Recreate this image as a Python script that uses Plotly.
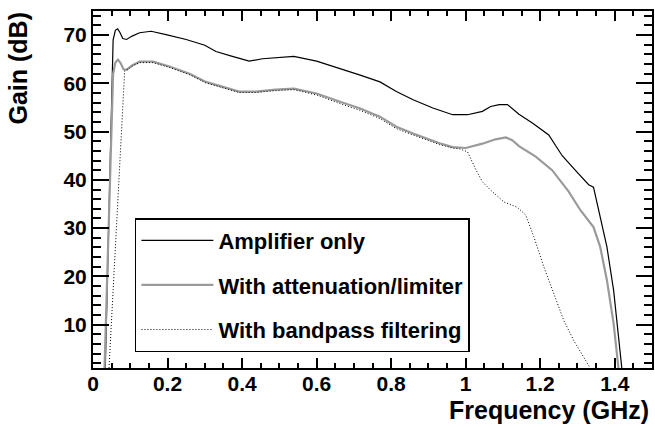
import plotly.graph_objects as go

# Amplifier only (black)
amp_f = [0.033, 0.047, 0.054, 0.060, 0.066, 0.072, 0.080, 0.090, 0.105, 0.125, 0.156, 0.196,
         0.25, 0.30, 0.33, 0.374, 0.419, 0.455, 0.50, 0.539, 0.60, 0.663, 0.717, 0.77, 0.814,
         0.859, 0.912, 0.965, 1.005, 1.045, 1.067, 1.09, 1.112, 1.143, 1.179, 1.223, 1.259,
         1.294, 1.33, 1.343, 1.361, 1.379, 1.397, 1.419]
amp_g = [1.0, 49.0, 69.0, 71.0, 71.3, 70.6, 69.3, 69.1, 69.8, 70.5, 70.8, 70.1,
         69.1, 67.9, 66.6, 65.6, 64.6, 65.1, 65.4, 65.6, 64.6, 63.1, 61.7, 60.3, 58.3,
         56.6, 54.9, 53.5, 53.5, 54.2, 55.2, 55.6, 55.6, 53.6, 51.8, 49.3, 45.0,
         42.0, 39.0, 38.5, 32.0, 26.1, 17.1, 1.0]

# With attenuation/limiter (grey)
att_f = [0.031, 0.045, 0.054, 0.060, 0.067, 0.074, 0.082, 0.090, 0.105, 0.125, 0.161, 0.205,
         0.259, 0.303, 0.347, 0.392, 0.437, 0.49, 0.539, 0.60, 0.663, 0.717, 0.77, 0.814,
         0.859, 0.894, 0.93, 0.965, 1.0, 1.045, 1.08, 1.108, 1.125, 1.143, 1.188, 1.232,
         1.263, 1.276, 1.308, 1.343, 1.361, 1.379, 1.397, 1.41]
att_g = [1.0, 40.0, 62.0, 64.3, 64.9, 64.2, 62.9, 62.8, 63.7, 64.5, 64.5, 63.5,
         62.0, 60.3, 59.3, 58.3, 58.3, 58.7, 58.9, 57.9, 56.2, 54.8, 53.1, 51.0,
         49.6, 48.6, 47.6, 46.8, 46.6, 47.5, 48.4, 48.8, 48.2, 47.0, 44.8, 42.0,
         38.8, 37.6, 33.7, 30.2, 26.1, 19.2, 10.2, 1.0]

# With bandpass filtering (dotted)
bp_f = [0.043, 0.064, 0.085, 0.095, 0.105, 0.125, 0.161, 0.205, 0.259, 0.303, 0.347, 0.392,
        0.437, 0.49, 0.539, 0.60, 0.663, 0.717, 0.77, 0.814, 0.859, 0.894, 0.93, 0.965,
        0.985, 1.005, 1.028, 1.045, 1.068, 1.103, 1.139, 1.161, 1.183, 1.21, 1.236, 1.263,
        1.29, 1.317, 1.334]
bp_g = [1.0, 32.0, 62.6, 63.0, 63.6, 64.3, 64.3, 63.3, 61.8, 60.1, 59.1, 58.1,
        58.1, 58.5, 58.7, 57.6, 55.8, 54.4, 52.7, 50.6, 49.3, 48.3, 47.3, 46.6,
        46.4, 45.8, 42.0, 39.6, 37.8, 35.4, 34.3, 32.7, 28.2, 21.9, 16.4, 10.9,
        6.7, 3.3, 1.0]

names = ["Amplifier only", "With attenuation/limiter", "With bandpass filtering"]

FONT = "Liberation Sans, Arial, Helvetica, sans-serif"

fig = go.Figure()
fig.add_trace(go.Scatter(x=amp_f, y=amp_g, mode="lines", name=names[0], legendgroup="a",
                         line=dict(color="black", width=1.2)))
fig.add_trace(go.Scatter(x=att_f, y=att_g, mode="lines", name=names[1], legendgroup="b",
                         line=dict(color="#9a9a9a", width=2.2)))
fig.add_trace(go.Scatter(x=bp_f, y=bp_g, mode="lines", name=names[2], legendgroup="c",
                         line=dict(color="black", width=1, dash="1px,2px")))

axis_common = dict(showline=True, linecolor="black", linewidth=2, mirror="allticks",
                   ticks="inside", tickcolor="black", showgrid=False, zeroline=False,
                   tickfont=dict(family=FONT, size=21, color="black", weight="bold"))

fig.update_xaxes(range=[0, 1.5], tick0=0, dtick=0.2, ticklen=10, tickwidth=1.5,
                 ticklabelstandoff=-4,
                 minor=dict(ticks="inside", dtick=0.05, ticklen=5, tickcolor="black", tickwidth=1.5),
                 **axis_common)
fig.update_yaxes(range=[1, 75], tick0=10, dtick=10, ticklen=16, tickwidth=1.5,
                 minor=dict(ticks="inside", dtick=2, tick0=0, ticklen=8, tickcolor="black", tickwidth=1.5),
                 **axis_common)

fig.update_layout(
    width=655, height=427,
    margin=dict(l=93, r=1, t=11, b=59),
    paper_bgcolor="white", plot_bgcolor="white",
    font=dict(family=FONT, size=21, color="black", weight="bold"),
    showlegend=True,
    legend=dict(x=0.075, y=0.42, xanchor="left", yanchor="top",
                bordercolor="black", borderwidth=1.5, bgcolor="white",
                itemwidth=72, tracegroupgap=13,
                font=dict(family=FONT, size=22, color="black", weight="bold")),
    annotations=[
        dict(text="Gain (dB)", textangle=-90, xref="paper", yref="paper",
             x=-0.134, y=1.003, xanchor="center", yanchor="top", showarrow=False,
             font=dict(family=FONT, size=25, color="black", weight="bold")),
        dict(text="Frequency (GHz)", xref="paper", yref="paper",
             x=0.998, y=-0.118, xanchor="right", yanchor="middle", showarrow=False,
             font=dict(family=FONT, size=25, color="black", weight="bold")),
    ],
)

fig.write_html("out.html")
